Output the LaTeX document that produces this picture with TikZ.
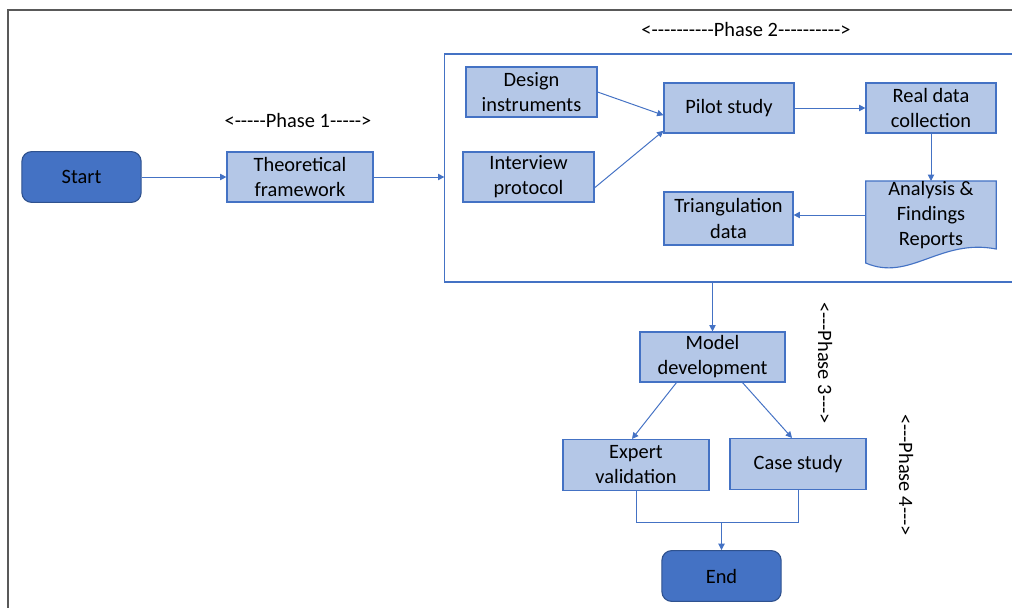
\documentclass[tikz,border=0pt]{standalone}
\usepackage{fontspec}
\setmainfont{Carlito}[Ligatures=TeXOff]
\usetikzlibrary{arrows.meta, positioning, calc, backgrounds}

\definecolor{termfill}{HTML}{4472C4}
\definecolor{termline}{HTML}{2F528F}
\definecolor{boxfill}{HTML}{B4C7E7}
\definecolor{boxline}{HTML}{4472C4}
\definecolor{frameline}{HTML}{595959}

\begin{document}
\begin{tikzpicture}[
  x=0.025cm, y=-0.025cm,
  font=\fontsize{14.5}{17.8}\selectfont,
  box/.style={rectangle, draw=boxline, fill=boxfill, line width=0.8pt, align=center,
              inner sep=1pt, minimum height=1.25cm, minimum width=3.25cm},
  term/.style={rectangle, rounded corners=7pt, draw=termline, fill=termfill,
               line width=0.8pt, minimum width=2.98cm, minimum height=1.27cm},
  arr/.style={-{Triangle[length=4.5pt,width=4.5pt]}, draw=boxline, line width=0.7pt},
  link/.style={draw=boxline, line width=0.7pt}]
  \useasboundingbox (0,0) rectangle (1012,607);
  \clip (0,0) rectangle (1012,607);
  % page frame
  \draw[frameline, line width=1pt] (8,620) -- (8,10) -- (1030,10);

  % phase 2 frame
  \node[draw=boxline, line width=0.8pt, minimum width=14.375cm,
        minimum height=5.7cm] (ph2) at (732.5,168) {};

  \node[term] (start) at (81.5,177) {Start};
  \node[box, minimum width=3.65cm] (theo) at (300,177) {Theoretical\\framework};

  \node[box, minimum width=3.275cm] (design) at (531.5,92)  {Design\\instruments};
  \node[box, minimum width=3.275cm] (inter)  at (528.5,177) {Interview\\protocol};
  \node[box] (pilot) at (729,108) {Pilot study};
  \node[box] (real)  at (931,108) {Real data\\collection};
  \node[align=center, inner sep=0pt, minimum width=3.25cm, minimum height=1.65cm]
        (ana) at (931,215) {Analysis \&\\Findings\\Reports};
  \node[box, minimum width=3.225cm, minimum height=1.325cm] (tria) at (728.5,218.5)
        {Triangulation\\data};

  \node[box, minimum width=3.625cm] (model) at (712.5,357) {Model\\development};
  \node[box, minimum width=3.65cm, minimum height=1.275cm] (expert) at (636,465)
        {Expert\\validation};
  \node[box, minimum width=3.4cm, minimum height=1.275cm] (case) at (798,464) {Case study};
  \node[term] (end) at (721.5,576) {End};

  % document shape under the report text
  \begin{scope}[on background layer]
    \draw[boxline, fill=boxfill, line width=0.8pt] (ana.north west) -- (ana.north east)
      -- (ana.south east) .. controls (940,238) and (910,282) .. ($(ana.south west)+(0,14)$)
      -- cycle;
  \end{scope}

  % phase labels
  \node (lbl1) at (298,120) {<-----Phase 1----->};
  \node (lbl2) at (746,29) {<----------Phase 2---------->};
  \node[rotate=-90] (lbl3) at (825,363) {<---Phase 3--->};
  \node[rotate=-90] (lbl4) at (906,475) {<---Phase 4--->};

  % connectors
  \draw[arr] (start) -- (theo);
  \draw[arr] (theo.east) -- (theo.east -| ph2.west);
  \draw[arr] (design.east) -- ([yshift=-0.18cm]pilot.west);
  \draw[arr] ([yshift=-0.27cm]inter.east) -- ([yshift=-0.57cm]pilot.west);
  \draw[arr] (pilot) -- (real);
  \draw[arr] (real) -- (ana);
  \draw[arr] (ana.west) -- (ana.west -| tria.east);
  \draw[arr] (model.north |- ph2.south) -- (model.north);
  \draw[arr] ([xshift=-0.9cm]model.south) -- ([xshift=-0.1cm]expert.north);
  \draw[arr] ([xshift=0.75cm]model.south) -- ([xshift=-0.15cm]case.north);
  \coordinate (join) at (end.north |- 0,522);
  \draw[link] (expert.south) |- (join) -| (case.south);
  \draw[arr] (join) -- (end.north);
\end{tikzpicture}
\end{document}
